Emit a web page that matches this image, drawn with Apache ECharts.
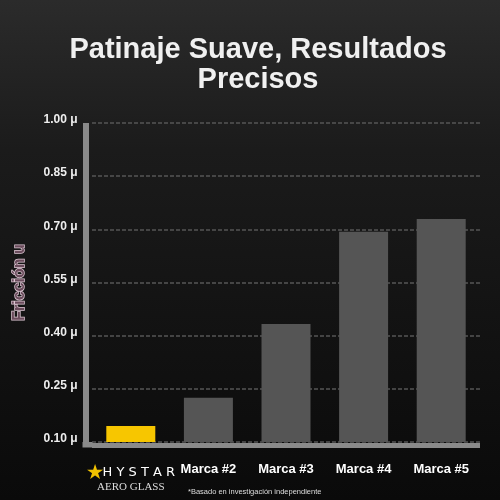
<!DOCTYPE html>
<html>

<head>
    <meta charset="utf-8">
    <title>Patinaje Suave</title>
    <style>
        html, body { margin: 0; padding: 0; background: #0c0c0c; }
    </style>
</head>

<body>
    <div id="chart" style="width: 500px;height: 500px;"></div>

    <script src="https://cdn.jsdelivr.net/npm/echarts@6/dist/echarts.min.js"></script>
    <script>
        // datos
        const marcas = ['HYSTAR', 'Marca #2', 'Marca #3', 'Marca #4', 'Marca #5'];
        const friccion = [0.145, 0.225, 0.433, 0.693, 0.729];
        const colores = ['#f7c600', '#555555', '#555555', '#555555', '#555555'];
        const ejeMin = 0.10, ejeMax = 1.00, ejePaso = 0.15;

        const chart = echarts.init(document.getElementById('chart'));

        const option = {
            backgroundColor: {
                type: 'linear', x: 0, y: 0, x2: 0, y2: 1,
                colorStops: [
                    { offset: 0, color: '#2b2b2b' },
                    { offset: 0.3, color: '#1b1b1b' },
                    { offset: 1, color: '#0a0a0a' }
                ]
            },
            title: [{
                text: 'Patinaje Suave, Resultados\nPrecisos',
                left: 253,
                textAlign: 'center',
                top: 30,
                textStyle: {
                    color: '#f0f0f0',
                    fontFamily: 'Liberation Sans',
                    fontWeight: 'bold',
                    fontSize: 29,
                    lineHeight: 30
                }
            }, {
                text: '*Basado en investigación independiente',
                left: 183,
                top: 483,
                textStyle: {
                    color: '#dddddd',
                    fontFamily: 'Liberation Sans',
                    fontWeight: 'normal',
                    fontSize: 7.5
                }
            }],
            grid: { left: 92, right: 20, top: 123, bottom: 58, outerBoundsMode: 'none' },
            xAxis: {
                type: 'category',
                data: marcas,
                offset: 3,
                axisLine: { lineStyle: { color: '#8a8a8a', width: 5, cap: 'butt' } },
                axisTick: { show: false },
                axisLabel: {
                    interval: 0,
                    hideOverlap: false,
                    margin: 18,
                    color: '#ffffff',
                    fontFamily: 'Liberation Sans',
                    fontWeight: 'bold',
                    fontSize: 13,
                    formatter: function (v, i) {
                        if (i === 0) return '{s|★}{h|H Y S T A R}\n{a|AERO GLASS}';
                        return v;
                    },
                    rich: {
                        s: { color: '#f2c200', fontSize: 18, lineHeight: 20 },
                        h: { color: '#ffffff', fontFamily: 'DejaVu Sans', fontWeight: 'normal', fontSize: 13, lineHeight: 20 },
                        a: { color: '#dddddd', fontFamily: 'Liberation Serif', fontWeight: 'normal', fontSize: 11, lineHeight: 9 }
                    }
                }
            },
            yAxis: {
                type: 'value',
                min: ejeMin,
                max: ejeMax,
                interval: ejePaso,
                offset: 6.5,
                name: 'Fricción u',
                nameLocation: 'middle',
                nameGap: 58,
                nameRotate: 90,
                nameTextStyle: {
                    color: '#6a4c5c',
                    fontFamily: 'Liberation Sans',
                    fontWeight: 'bold',
                    fontSize: 16,
                    textBorderColor: '#dcc6d2',
                    textBorderWidth: 1.5
                },
                axisLine: { show: true, lineStyle: { color: '#8a8a8a', width: 6, cap: 'butt' } },
                axisTick: { show: false },
                axisLabel: {
                    margin: 8,
                    color: '#eeeeee',
                    fontFamily: 'Liberation Sans',
                    fontWeight: 'bold',
                    fontSize: 12,
                    lineHeight: 6,
                    verticalAlign: 'bottom',
                    formatter: v => v.toFixed(2) + ' μ'
                },
                splitLine: {
                    show: true,
                    lineStyle: { color: '#555555', width: 1.5, type: [4, 2] }
                }
            },
            graphic: [{
                // esquina del marco
                type: 'rect',
                shape: { x: 82.5, y: 442, width: 10, height: 5.5 },
                style: { fill: '#8a8a8a' },
                z: 10
            }],
            series: [{
                type: 'bar',
                barWidth: 49,
                data: friccion.map((v, i) => ({ value: v, itemStyle: { color: colores[i] } })),
                z: 3
            }]
        };

        chart.setOption(option);
    </script>

</body>

</html>
